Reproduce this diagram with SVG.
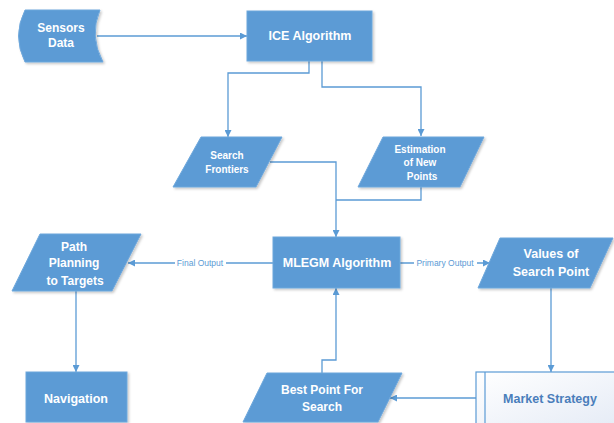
<svg xmlns="http://www.w3.org/2000/svg" width="614" height="423" viewBox="0 0 614 423">
<style>
.n{fill:#5B9BD5;stroke:#6FA8DC;stroke-width:1;filter:url(#sh)}
.t{font-family:"Liberation Sans",Arial,sans-serif;font-weight:bold;fill:#fff;text-anchor:middle}
.c{fill:none;stroke:#5B9BD5;stroke-width:1.3}
.a{marker-end:url(#ah)}
.l{font-family:"Liberation Sans",Arial,sans-serif;font-size:8.5px;fill:#5B9BD5;text-anchor:middle}
</style>
<defs>
<marker id="ah" viewBox="0 0 10 10" refX="10" refY="5" markerWidth="7" markerHeight="7" orient="auto" markerUnits="userSpaceOnUse">
<path d="M0,0 L10,5 L0,10 Z" fill="#5B9BD5"/>
</marker>
<filter id="sh" x="-10%" y="-10%" width="125%" height="130%">
<feDropShadow dx="1.5" dy="1.5" stdDeviation="1.2" flood-color="#000" flood-opacity="0.22"/>
</filter>
<linearGradient id="mg" x1="0" y1="0" x2="1" y2="1">
<stop offset="0" stop-color="#ffffff"/>
<stop offset="1" stop-color="#e6ecf6"/>
</linearGradient>
</defs>
<rect width="614" height="423" fill="#fff"/>
<g id="connectors">
<path class="c a" d="M97,36 H247"/>
<path class="c a" d="M309,61 V73 H228 V137"/>
<path class="c a" d="M322,61 V87 H421 V136"/>
<path class="c a" d="M270,162 H336 V237"/>
<path class="c" d="M421,187 V200 H336"/>
<path class="c a" d="M273,263 H128"/>
<path class="c a" d="M400,263 H490"/>
<path class="c a" d="M76,291 V372"/>
<path class="c a" d="M551,288 V372"/>
<path class="c a" d="M476,398 H390"/>
<path class="c a" d="M322,373 V360 H336 V288"/>
<rect x="175" y="257" width="51" height="12" fill="#fff"/>
<text class="l" x="200" y="266">Final Output</text>
<rect x="414" y="257" width="63" height="12" fill="#fff"/>
<text class="l" x="445" y="266">Primary Output</text>
</g>
<g id="sensors-data">
<path class="n" d="M25,10 L100,10 Q89,36 103,62 L25,62 Q12,36 25,10 Z"/>
<text class="t" font-size="12" x="61" y="32">Sensors</text>
<text class="t" font-size="12" x="61" y="47">Data</text>
</g>
<g id="ice-algorithm">
<rect class="n" x="247" y="11" width="125" height="50"/>
<text class="t" font-size="12.5" x="310" y="40">ICE Algorithm</text>
</g>
<g id="search-frontiers">
<path class="n" d="M201,137 L282,137 L256,187 L173,187 Z"/>
<text class="t" font-size="10" x="227" y="159">Search</text>
<text class="t" font-size="10" x="227" y="173">Frontiers</text>
</g>
<g id="estimation">
<path class="n" d="M383,137 L484,137 L460,187 L358,187 Z"/>
<text class="t" font-size="10" x="420" y="153">Estimation</text>
<text class="t" font-size="10" x="420" y="166">of New</text>
<text class="t" font-size="10" x="422" y="180">Points</text>
</g>
<g id="mlegm-algorithm">
<rect class="n" x="273" y="237" width="127" height="51"/>
<text class="t" font-size="12.5" x="337" y="267">MLEGM Algorithm</text>
</g>
<g id="path-planning">
<path class="n" d="M40,234 L141,234 L112,291 L12,291 Z"/>
<text class="t" font-size="12" x="74" y="251">Path</text>
<text class="t" font-size="12" x="74" y="267">Planning</text>
<text class="t" font-size="12" x="75" y="285">to Targets</text>
</g>
<g id="values-search-point">
<path class="n" d="M500,238 L613,238 L590,288 L478,288 Z"/>
<text class="t" font-size="12.5" x="551" y="258">Values of</text>
<text class="t" font-size="12.5" x="551" y="276">Search Point</text>
</g>
<g id="navigation">
<rect class="n" x="26" y="372" width="101" height="50"/>
<text class="t" font-size="12.5" x="76" y="403">Navigation</text>
</g>
<g id="best-point">
<path class="n" d="M267,373 L402,373 L378,422 L243,422 Z"/>
<text class="t" font-size="12" x="322" y="394">Best Point For</text>
<text class="t" font-size="12" x="322" y="411">Search</text>
</g>
<g id="market-strategy">
<rect x="476" y="372" width="140" height="52" fill="url(#mg)" stroke="#5B9BD5" stroke-width="1.2"/>
<line x1="485" y1="372" x2="485" y2="424" stroke="#5B9BD5" stroke-width="1.2"/>
<text font-family="'Liberation Sans',Arial,sans-serif" font-weight="bold" font-size="12.5" fill="#4A7EBB" text-anchor="middle" x="550" y="403">Market Strategy</text>
</g>
</svg>
